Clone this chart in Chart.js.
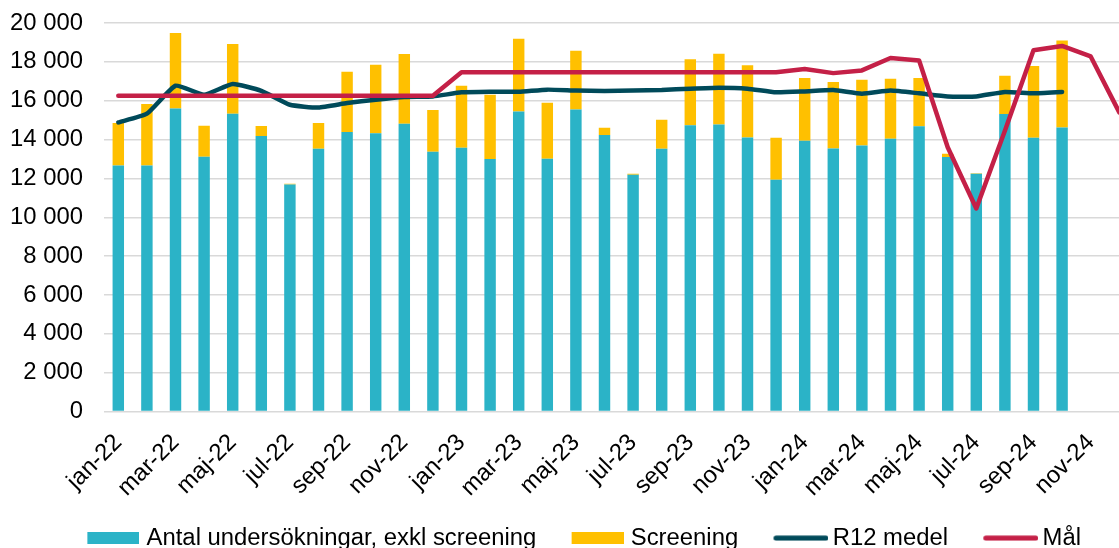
<!DOCTYPE html>
<html lang="sv">
<head>
<meta charset="utf-8">
<title>Undersökningar</title>
<script src="https://cdn.jsdelivr.net/npm/chart.js@4.4.1/dist/chart.umd.min.js"></script>
<style>
  html, body { margin: 0; padding: 0; background: #fff; overflow: hidden; }
  #wrap { position: relative; width: 1161px; height: 560px; }
</style>
</head>
<body>
<div id="wrap"><canvas id="undersokningar"></canvas></div>
<script>
const months = [
    'jan-22', 'feb-22', 'mar-22', 'apr-22', 'maj-22', 'jun-22', 'jul-22', 'aug-22', 'sep-22', 'okt-22', 'nov-22', 'dec-22',
    'jan-23', 'feb-23', 'mar-23', 'apr-23', 'maj-23', 'jun-23', 'jul-23', 'aug-23', 'sep-23', 'okt-23', 'nov-23', 'dec-23',
    'jan-24', 'feb-24', 'mar-24', 'apr-24', 'maj-24', 'jun-24', 'jul-24', 'aug-24', 'sep-24', 'okt-24', 'nov-24', 'dec-24'
];

const antal = [
    12670, 12670, 15600, 13120, 15330, 14180, 11690, 13530, 14390, 14320, 14810, 13370,
    13580, 13000, 15450, 13010, 15550, 14230, 12190, 13530, 14730, 14780, 14110, 11930,
    13940, 13540, 13700, 14040, 14680, 13100, 12240, 15310, 14090, 14620, null, null
];

const screening = [
    2180, 3160, 3880, 1590, 3590, 520, 30, 1320, 3100, 3530, 3590, 2150,
    3190, 3300, 3740, 2890, 3020, 380, 50, 1490, 3400, 3640, 3710, 2160,
    3230, 3420, 3380, 3090, 2490, 170, 20, 1980, 3690, 4480, null, null
];

const r12 = [
    14880, 15330, 16770, 16310, 16860, 16510, 15790, 15650, 15880, 16050, 16190, 16220,
    16430, 16460, 16460, 16570, 16520, 16500, 16530, 16550, 16620, 16670, 16620, 16430,
    16480, 16550, 16360, 16520, 16380, 16220, 16220, 16450, 16380, 16450, null, null
];

const mal = [
    16250, 16250, 16250, 16250, 16250, 16250, 16250, 16250, 16250, 16250, 16250, 16250,
    17460, 17460, 17460, 17460, 17460, 17460, 17460, 17460, 17460, 17460, 17460, 17460,
    17630, 17420, 17560, 18200, 18070, 13600, 10450, 14450, 18600, 18820, 18280, 15400
];

const yTicks = [0, 2000, 4000, 6000, 8000, 10000, 12000, 14000, 16000, 18000, 20000];

const TEAL = '#2BB3C7';
const GOLD = '#FFC000';
const DARK = '#004A5A';
const RED = '#C42047';

const fontSize = 23.85;
Chart.defaults.font.family = "'Liberation Sans', Arial, sans-serif";
Chart.defaults.color = '#000';

// legend markers as small canvases, so the marker-to-text gap can be Excel's
const legendBox = 54.6;
function marker(color, isLine) {
    const mw = isLine ? 55 : 52;
    const gap = isLine ? 4 : 7;
    const half = Math.round(legendBox / 2 + fontSize / 2 - gap);
    const c = document.createElement('canvas');
    c.width = half * 2;
    c.height = isLine ? 6 : 12;
    const ctx = c.getContext('2d');
    if (isLine) {
        ctx.strokeStyle = color;
        ctx.lineWidth = 5;
        ctx.lineCap = 'round';
        ctx.beginPath();
        ctx.moveTo(c.width - mw + 2.5, 3);
        ctx.lineTo(c.width - 2.5, 3);
        ctx.stroke();
    } else {
        ctx.fillStyle = color;
        ctx.fillRect(c.width - mw, 0, mw, 12);
    }
    return c;
}
const markers = [marker(TEAL, false), marker(GOLD, false), marker(DARK, true), marker(RED, true)];

const chart1 = document.getElementById('undersokningar');

new Chart(chart1, {
    type: 'bar',
    data: {
        labels: months,
        datasets: [
            {
                label: 'Antal undersökningar, exkl screening',
                data: antal,
                backgroundColor: TEAL,
                stack: 'bars',
                order: 2,
                categoryPercentage: 1,
                barPercentage: 0.4
            },
            {
                label: 'Screening',
                data: screening,
                backgroundColor: GOLD,
                stack: 'bars',
                order: 3,
                categoryPercentage: 1,
                barPercentage: 0.4
            },
            {
                type: 'line',
                label: 'R12 medel',
                data: r12,
                borderColor: DARK,
                backgroundColor: DARK,
                borderWidth: 4.5,
                borderCapStyle: 'round',
                borderJoinStyle: 'round',
                pointRadius: 0,
                stack: 'r12',
                order: 1,
                tension: 0.15
            },
            {
                type: 'line',
                label: 'Mål',
                data: mal,
                borderColor: RED,
                backgroundColor: RED,
                borderWidth: 4.5,
                borderCapStyle: 'round',
                borderJoinStyle: 'round',
                pointRadius: 0,
                stack: 'mal',
                order: 0,
                tension: 0
            }
        ]
    },
    options: {
        responsive: true,
        maintainAspectRatio: false,
        animation: false,
        layout: {
            padding: 0
        },
        scales: {
            x: {
                stacked: true,
                grid: { display: false, drawTicks: false },
                border: { display: false },
                ticks: {
                    autoSkip: false,
                    maxRotation: 45,
                    minRotation: 45,
                    padding: 17,
                    font: { size: fontSize },
                    callback: function (value, index) {
                        return index % 2 === 0 ? months[index] : '';
                    }
                },
                afterFit: function (scale) {
                    scale.paddingLeft = 0;
                    scale.paddingRight = 27.4;
                    scale.height = scale.height - 21;
                }
            },
            y: {
                stacked: true,
                min: 0,
                max: 20000,
                afterBuildTicks: function (scale) {
                    scale.ticks = yTicks.map(v => ({ value: v }));
                },
                afterFit: function (scale) {
                    scale.width = 104;
                    scale.paddingTop = 23;
                    scale.paddingBottom = 0;
                },
                grid: { color: '#D9D9D9', lineWidth: 1.5, drawTicks: false },
                border: { display: false },
                ticks: {
                    padding: 21,
                    font: { size: fontSize },
                    callback: function (value) {
                        return String(value).replace(/\B(?=(\d{3})+(?!\d))/g, ' ');
                    }
                }
            }
        },
        plugins: {
            tooltip: { enabled: false },
            legend: {
                position: 'bottom',
                labels: {
                    usePointStyle: true,
                    pointStyleWidth: legendBox,
                    boxHeight: 12,
                    padding: 28,
                    color: '#000',
                    font: { size: fontSize },
                    generateLabels: function (chart) {
                        return Chart.defaults.plugins.legend.labels.generateLabels(chart)
                            .sort((a, b) => a.datasetIndex - b.datasetIndex)
                            .map(item => {
                                item.pointStyle = markers[item.datasetIndex];
                                item.lineWidth = 0;
                                return item;
                            });
                    }
                }
            }
        }
    }
});
</script>
</body>
</html>
